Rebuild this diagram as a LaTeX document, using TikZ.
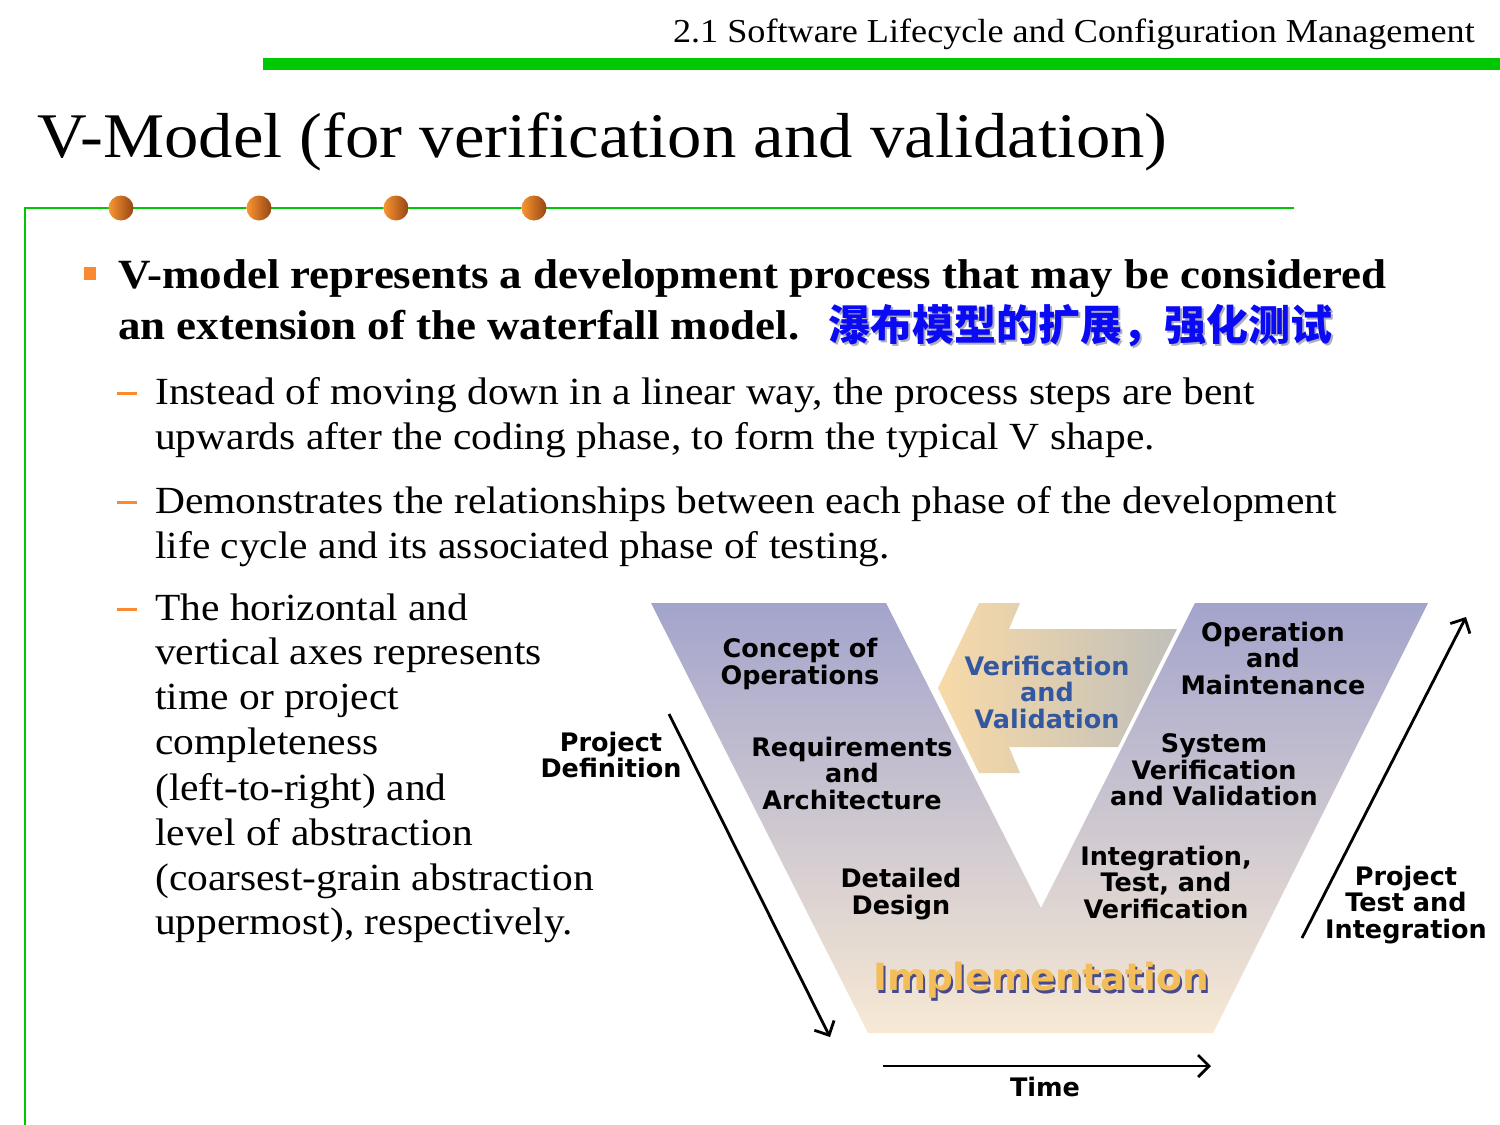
\documentclass[tikz,border=0pt]{standalone}
\usepackage{fontspec}
\setmainfont{Liberation Serif}[FakeStretch=1.08]
\newfontfamily\dejavu{DejaVu Sans}
\newfontfamily\cjk{Noto Sans CJK SC}
\usetikzlibrary{arrows.meta}
\definecolor{vgreen}{RGB}{0,200,0}
\definecolor{vorange}{RGB}{250,138,50}
\definecolor{dotlight}{RGB}{250,150,50}
\definecolor{dotdark}{RGB}{150,70,20}
\definecolor{vtop}{RGB}{163,164,204}
\definecolor{vbot}{RGB}{247,233,212}
\definecolor{arrL}{RGB}{248,218,168}
\definecolor{arrM}{RGB}{205,188,160}
\definecolor{arrR}{RGB}{192,191,186}
\definecolor{vvblue}{RGB}{52,88,160}
\definecolor{implor}{RGB}{243,190,90}
\definecolor{implsh}{RGB}{72,74,140}
\definecolor{cnblue}{RGB}{10,10,245}
\definecolor{cnshadow}{RGB}{175,175,185}
\tikzset{
  txt/.style={anchor=base west, inner sep=0pt, font=\fontsize{38.4}{45}\selectfont},
  btxt/.style={anchor=base west, inner sep=0pt, font=\bfseries\fontsize{41.6}{50}\selectfont},
  vlab/.style={align=center, inner sep=0pt, font=\dejavu\bfseries\fontsize{25.5}{26.5}\selectfont},
  axisarrow/.style={line width=2.8pt, -{Straight Barb[length=11pt,width=22pt]}},
  dotball/.style={left color=dotlight, right color=dotdark},
  dashmark/.style={draw=vorange, line width=3pt},
}
\begin{document}
\begin{tikzpicture}[x=1pt,y=-1pt]
\useasboundingbox (0,0) rectangle (1500,1125);
\fill[white] (0,0) rectangle (1500,1125);

% header
\node[anchor=base east, inner sep=0pt, font=\fontsize{33.5}{36}\selectfont] (hdr) at (1475,42) {2.1 Software Lifecycle and Configuration Management};
\fill[vgreen] (263,58) rectangle (1500,70);

% title
\node[anchor=base west, inner sep=0pt, font=\fontsize{63.6}{70}\selectfont] (title) at (37,157) {V-Model (for verification and validation)};

% frame lines
\draw[vgreen, line width=2pt] (25,1125) -- (25,208) -- (1294,208);
\shade[dotball] (121,208) circle[radius=12.5];
\shade[dotball] (259,208) circle[radius=12.5];
\shade[dotball] (396,208) circle[radius=12.5];
\shade[dotball] (534,208) circle[radius=12.5];

% main bullet
\fill[vorange] (84,267) rectangle (96,280);
\node[btxt] (b1) at (118,288) {V-model represents a development process that may be considered};
\node[btxt] (b2) at (118,339) {an extension of the waterfall model.};
\node[anchor=base west, inner sep=0pt, font=\cjk\bfseries\fontsize{42}{42}\selectfont, text=cnshadow] (cns) at (830,342) {瀑布模型的扩展，强化测试};
\node[anchor=base west, inner sep=0pt, font=\cjk\bfseries\fontsize{42}{42}\selectfont, text=cnblue] (cn) at (828,340) {瀑布模型的扩展，强化测试};

% sub bullets
\draw[dashmark] (117,393) -- (137,393);
\node[txt] (s1a) at (155,404) {Instead of moving down in a linear way, the process steps are bent};
\node[txt] (s1b) at (155,449) {upwards after the coding phase, to form the typical V shape.};
\draw[dashmark] (117,502) -- (137,502);
\node[txt] (s2a) at (155,513) {Demonstrates the relationships between each phase of the development};
\node[txt] (s2b) at (155,558) {life cycle and its associated phase of testing.};
\draw[dashmark] (117,609) -- (137,609);
\node[txt] (s3a) at (155,620) {The horizontal and};
\node[txt] (s3b) at (155,664) {vertical axes represents};
\node[txt] (s3c) at (155,709) {time or project};
\node[txt] (s3d) at (155,754) {completeness};
\node[txt] (s3e) at (155,800) {(left-to-right) and};
\node[txt] (s3f) at (155,845) {level of abstraction};
\node[txt] (s3g) at (155,890) {(coarsest-grain abstraction};
\node[txt] (s3h) at (155,934) {uppermost), respectively.};

% V shape
\shade[top color=vtop, bottom color=vbot]
  (651,603) -- (886,603) -- (1041,908) -- (1195,603) -- (1428,603)
  -- (1213,1033) -- (868,1033) -- cycle;

% verification arrow
\shade[left color=arrL, middle color=arrM, right color=arrR]
  (938,688) -- (979,603) -- (1020,603) -- (1009,629) -- (1177,629)
  -- (1118,747) -- (1009,747) -- (1020,773) -- (979,773) -- cycle;

% V labels
\node[vlab] (conc) at (800,664) {Concept of\\Operations};
\node[vlab] (req) at (852,773) {Requirements\\and\\Architecture};
\node[vlab] (det) at (901,894) {Detailed\\Design};
\node[vlab, text=vvblue] (vv) at (1047,692) {Verification\\and\\Validation};
\node[vlab] (om) at (1273,658) {Operation\\and\\Maintenance};
\node[vlab] (svv) at (1214,770) {System\\Verification\\and Validation};
\node[vlab] (itv) at (1166,882) {Integration,\\Test, and\\Verification};
\node[inner sep=0pt, font=\dejavu\bfseries\fontsize{37.5}{40}\selectfont, text=implsh] (impls) at (1043,983) {Implementation};
\node[inner sep=0pt, font=\dejavu\bfseries\fontsize{37.5}{40}\selectfont, text=implor] (impl) at (1041,980) {Implementation};

% axes
\node[vlab] (pd) at (611,755) {Project\\Definition};
\node[vlab] (pti) at (1406,905) {Project\\Test and\\Integration};
\node[vlab] (time) at (1045,1087) {Time};
\coordinate (pd0) at (669,714);
\coordinate (pd1) at (830,1037);
\coordinate (pt0) at (1302,938);
\coordinate (pt1) at (1466,617);
\coordinate (t0) at (883,1066);
\coordinate (t1) at (1211,1066);
\draw[axisarrow] (pd0) -- (pd1);
\draw[axisarrow] (pt0) -- (pt1);
\draw[axisarrow] (t0) -- (t1);
\end{tikzpicture}
\end{document}
